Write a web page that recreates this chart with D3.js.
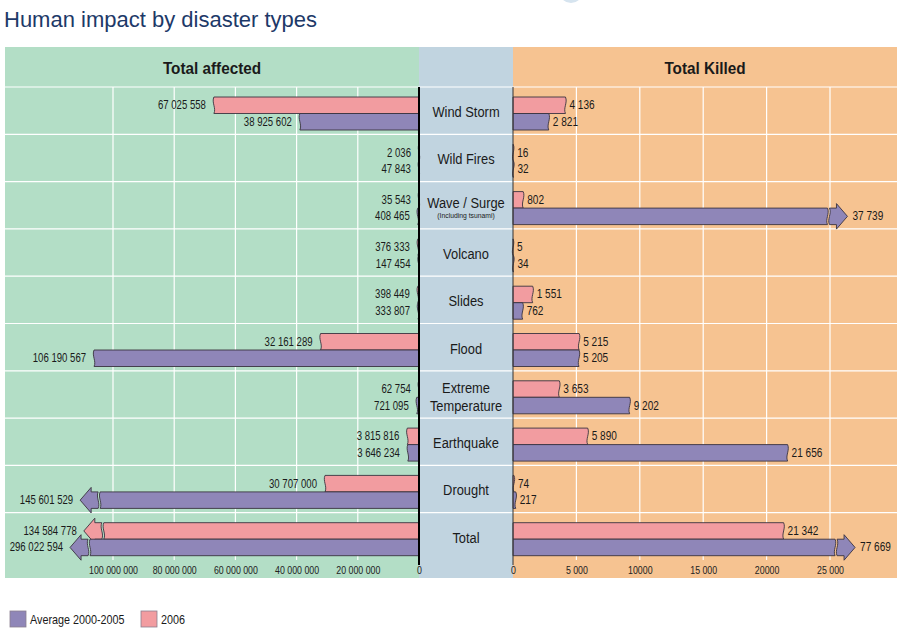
<!DOCTYPE html>
<html><head><meta charset="utf-8">
<script src="https://cdn.jsdelivr.net/npm/d3@7"></script>
<style>
html,body{margin:0;padding:0;background:#fff;}
svg{display:block;}
text{font-family:"Liberation Sans",Arial,Helvetica,sans-serif;}
</style></head>
<body>
<svg id="chart" width="906" height="632"></svg>
<script>
// ---------------- DATA ----------------
const categories = ["Wind Storm","Wild Fires","Wave / Surge","Volcano","Slides","Flood","Extreme Temperature","Earthquake","Drought","Total"];
const categoryLines = [["Wind Storm"],["Wild Fires"],["Wave / Surge"],["Volcano"],["Slides"],["Flood"],["Extreme","Temperature"],["Earthquake"],["Drought"],["Total"]];
const categoryNotes = ["","","(Including tsunami)","","","","","","",""];

const affected2006 = [67025558, 2036, 35543, 376333, 398449, 32161289, 62754, 3815816, 30707000, 134584778];
const affectedAvg  = [38925602, 47843, 408465, 147454, 333807, 106190567, 721095, 3646234, 145601529, 296022594];
const killed2006   = [4136, 16, 802, 5, 1551, 5215, 3653, 5890, 74, 21342];
const killedAvg    = [2821, 32, 37739, 34, 762, 5205, 9202, 21656, 217, 77669];

// values at which an out-of-range bar is cut and continued as an arrow (null = drawn in full)
const affected2006Cut = [null,null,null,null,null,null,null,null,null,103000000];
const affectedAvgCut  = [null,null,null,null,null,null,null,null,104200000,107500000];
const killed2006Cut   = [null,null,null,null,null,null,null,null,null,null];
const killedAvgCut    = [null,null,24800,null,null,null,null,null,null,25400];

const leftTicks = [100000000, 80000000, 60000000, 40000000, 20000000, 0];
const leftTickLabels = ["100 000 000","80 000 000","60 000 000","40 000 000","20 000 000","0"];
const rightTicks = [0, 5000, 10000, 15000, 20000, 25000];
const rightTickLabels = ["0","5 000","10000","15 000","20000","25 000"];

const seriesNames = ["Average 2000-2005","2006"];
const title = "Human impact by disaster types";
const leftHeader = "Total affected";
const rightHeader = "Total Killed";

// ---------------- STYLE / LAYOUT ----------------
const C = {green:"#b3dec6", blue:"#c1d4e0", orange:"#f6c391", pink:"#f29ca0", purple:"#8f86b8",
           title:"#1d3968", text:"#1a1a1a"};
const svg = d3.select("#chart");
const fmt = d3.formatLocale({decimal:".", thousands:" ", grouping:[3], currency:["",""]}).format(",d");

const panelTop = 47, headerBottom = 87, rowsBottom = 560, panelBottom = 578;
const leftX0 = 5, midX0 = 419, midX1 = 513, rightX1 = 897;

const xL = d3.scaleLinear().domain([0, 100000000]).range([midX0, 113]);
const xR = d3.scaleLinear().domain([0, 25000]).range([midX1, 830]);
const y = d3.scaleBand().domain(categories).range([headerBottom, rowsBottom]);
const barOff = 10, barH = 16.5;

// condensed text helper (horizontal squeeze around the anchor point)
function ntext(parent, x, yy, str, size, anchor, sx, weight){
  return parent.append("text").attr("transform",`translate(${x},${yy}) scale(${sx},1)`)
    .attr("text-anchor",anchor).attr("font-size",size).attr("font-weight",weight||"normal")
    .attr("fill",C.text).text(str);
}

// title
svg.append("text").attr("x",4).attr("y",27).attr("fill",C.title).attr("font-size",22).text(title);
// decorative arc at top
svg.append("circle").attr("cx",571).attr("cy",-9).attr("r",12).attr("fill","#d6e4ef");

// panels
svg.append("rect").attr("x",leftX0).attr("y",panelTop).attr("width",midX0-leftX0).attr("height",panelBottom-panelTop).attr("fill",C.green);
svg.append("rect").attr("x",midX0).attr("y",panelTop).attr("width",midX1-midX0).attr("height",panelBottom-panelTop).attr("fill",C.blue);
svg.append("rect").attr("x",midX1).attr("y",panelTop).attr("width",rightX1-midX1).attr("height",panelBottom-panelTop).attr("fill",C.orange);

// headers
ntext(svg, (leftX0+midX0)/2, 74, leftHeader, 17, "middle", 0.9, "bold");
ntext(svg, (midX1+rightX1)/2, 74, rightHeader, 17, "middle", 0.9, "bold");

// grid: horizontal
const rowEdges = categories.map(c => y(c));
svg.append("g").selectAll("line").data(rowEdges).join("line")
  .attr("x1",leftX0).attr("x2",rightX1).attr("y1",d=>d).attr("y2",d=>d)
  .attr("stroke","#fff").attr("stroke-width",1.2);
// grid: vertical
svg.append("g").selectAll("line").data(leftTicks.filter(d=>d>0)).join("line")
  .attr("x1",d=>xL(d)).attr("x2",d=>xL(d)).attr("y1",headerBottom).attr("y2",rowsBottom)
  .attr("stroke","#fff").attr("stroke-width",1.2);
svg.append("g").selectAll("line").data(rightTicks.filter(d=>d>0)).join("line")
  .attr("x1",d=>xR(d)).attr("x2",d=>xR(d)).attr("y1",headerBottom).attr("y2",rowsBottom)
  .attr("stroke","#fff").attr("stroke-width",1.2);

// bars
function barPath(x0, xb, top, h, dir){
  const w = 2.5*dir;
  return `M${x0},${top}H${xb}C${xb+w},${top+h*0.33} ${xb-w},${top+h*0.67} ${xb},${top+h}H${x0}Z`;
}
function arrowPath(xb, top, h, dir){
  const s = xb + 2*dir, w = 2.5*dir;
  return `M${s},${top}H${s+7*dir}V${top-4.5}L${s+18*dir},${top+h/2}L${s+7*dir},${top+h+4.5}V${top+h}H${s}`+
         `C${s-w},${top+h*0.67} ${s+w},${top+h*0.33} ${s},${top}Z`;
}

const gBars = svg.append("g");
function drawSeries(values, cuts, scale, dir, color, offset){
  values.forEach((v,i)=>{
    const c = categories[i];
    const top = y(c) + offset;
    const x0 = scale(0);
    const cut = cuts[i];
    let labelX;
    if (cut == null){
      const xe = scale(v);
      gBars.append("path").attr("d", barPath(x0, xe, top, barH, dir))
        .attr("fill",color).attr("stroke","#3a3340").attr("stroke-width",0.9);
      labelX = xe + (dir>0 ? 4 : -8);
    } else {
      const xb = scale(cut);
      gBars.append("path").attr("d", barPath(x0, xb, top, barH, dir))
        .attr("fill",color).attr("stroke","#3a3340").attr("stroke-width",0.9);
      gBars.append("path").attr("d", arrowPath(xb, top, barH, dir))
        .attr("fill",color).attr("stroke","#3a3340").attr("stroke-width",0.9);
      labelX = xb + 20*dir + (dir>0 ? 5 : -7);
    }
    ntext(gBars, labelX, top+barH/2+4, fmt(v), 12, dir>0 ? "start" : "end", dir>0 ? 0.84 : 0.8);
  });
}
drawSeries(affected2006, affected2006Cut, xL, -1, C.pink, barOff);
drawSeries(affectedAvg, affectedAvgCut, xL, -1, C.purple, barOff+barH);
drawSeries(killed2006, killed2006Cut, xR, 1, C.pink, barOff);
drawSeries(killedAvg, killedAvgCut, xR, 1, C.purple, barOff+barH);

// zero lines
svg.append("line").attr("x1",midX0).attr("x2",midX0).attr("y1",headerBottom).attr("y2",565).attr("stroke","#000").attr("stroke-width",2);
svg.append("line").attr("x1",midX1).attr("x2",midX1).attr("y1",headerBottom).attr("y2",565).attr("stroke","#333").attr("stroke-width",1);

// category labels
const gCat = svg.append("g");
const cx = (midX0+midX1)/2;
categories.forEach((c,i)=>{
  const lines = categoryLines[i];
  const top = y(c);
  if (lines.length === 2){
    lines.forEach((t,j)=> ntext(gCat, cx, top+22.5+j*17.5, t, 14, "middle", 0.92));
  } else if (categoryNotes[i]) {
    ntext(gCat, cx, top+26.5, lines[0], 14, "middle", 0.92);
    ntext(gCat, cx, top+36.5, categoryNotes[i], 8, "middle", 0.85);
  } else {
    ntext(gCat, cx, top+30, lines[0], 14, "middle", 0.92);
  }
});

// axes
const axL = svg.append("g").attr("transform",`translate(0,${rowsBottom})`)
  .call(d3.axisBottom(xL).tickValues(leftTicks).tickSize(0).tickPadding(6).tickFormat((d,i)=>leftTickLabels[i]));
const axR = svg.append("g").attr("transform",`translate(0,${rowsBottom})`)
  .call(d3.axisBottom(xR).tickValues(rightTicks).tickSize(0).tickPadding(6).tickFormat((d,i)=>rightTickLabels[i]));
[axL, axR].forEach(a=>{
  a.select(".domain").remove();
  a.selectAll("text").attr("font-size",11).attr("fill","#222")
    .style("font-family",'"Liberation Sans",Arial,sans-serif').attr("transform","scale(0.8,1)");
});

// legend
const legColors = [C.purple, C.pink];
const legX = [10, 141];
seriesNames.forEach((n,i)=>{
  svg.append("rect").attr("x",legX[i]).attr("y",611).attr("width",16).attr("height",16)
    .attr("fill",legColors[i]).attr("stroke","#8a7f8f").attr("stroke-width",0.8);
  ntext(svg, legX[i]+20, 623.5, n, 12, "start", 0.9);
});
</script>
</body></html>
